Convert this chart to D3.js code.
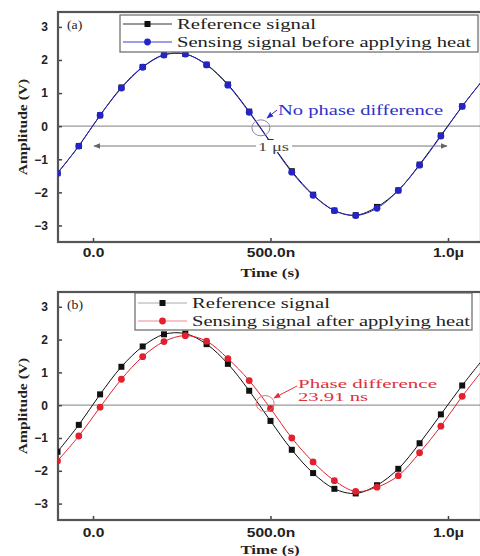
<!DOCTYPE html>
<html>
<head>
<meta charset="utf-8">
<script src="https://cdn.jsdelivr.net/npm/d3@7"></script>
<style>
  body { margin: 0; background: #fff; }
  svg { display: block; font-family: "Liberation Serif", "Times New Roman", serif; }
  .axis path, .axis line { stroke: #444; }
  .axis text { font-weight: bold; font-size: 12px; fill: #222; }
</style>
</head>
<body>
<svg id="chart" width="480" height="556"></svg>
<script>
// sample times (ns)
const times = [-100, -40, 20, 80, 140, 200, 260, 320, 380, 440, 500, 560, 620, 680, 740, 800, 860, 920, 980, 1040, 1100]
// reference signal (V)
const refSignal = [-1.42, -0.6, 0.33, 1.17, 1.79, 2.16, 2.18, 1.86, 1.26, 0.44, -0.48, -1.36, -2.07, -2.55, -2.69, -2.44, -1.94, -1.16, -0.28, 0.6, 1.42]
// sensing signal before heat (V)
const sensingBefore = [-1.42, -0.6, 0.33, 1.15, 1.78, 2.15, 2.18, 1.85, 1.24, 0.42, -0.5, -1.39, -2.09, -2.55, -2.7, -2.48, -1.94, -1.18, -0.3, 0.6, 1.42]
// sensing signal after heat (V)
const sensingAfter = [-1.7, -0.94, -0.06, 0.79, 1.48, 1.94, 2.12, 1.95, 1.42, 0.75, -0.1, -1.0, -1.73, -2.3, -2.63, -2.5, -2.15, -1.45, -0.64, 0.27, 1.1]

const xTicks = [0, 500e-9, 1e-6]
const xTickLabels = ['0.0', '500.0n', '1.0\u03bc']
const yTicks = [-3, -2, -1, 0, 1, 2, 3]

const svg = d3.select('#chart')
const margin = {left: 58, right: 481}
const sx = 1.3 // text in the original looks horizontally wide

const xScale = d3.scaleLinear().domain([-98.6e-9, 1.093e-6]).range([margin.left, margin.right])

const defs = svg.append('defs')
function arrowMarker(id, color) {
    defs.append('marker')
        .attr('id', id)
        .attr('viewBox', '0 0 10 10')
        .attr('refX', 9).attr('refY', 5)
        .attr('markerWidth', 7).attr('markerHeight', 7)
        .attr('orient', 'auto-start-reverse')
        .append('path')
        .attr('d', 'M0,1 L10,5 L0,9 Z')
        .attr('fill', color)
}
arrowMarker('arrGray', '#666')
arrowMarker('arrBlue', '#2a2ad0')
arrowMarker('arrRed', '#e0303a')

function makePanel(cfg) {
    const top = cfg.top, bottom = cfg.bottom
    const yScale = d3.scaleLinear().domain([-3.5, 3.45]).range([bottom, top])
    const g = svg.append('g')

    defs.append('clipPath').attr('id', cfg.id + '-clip')
        .append('rect')
        .attr('x', margin.left).attr('y', top)
        .attr('width', margin.right - margin.left).attr('height', bottom - top)

    // zero line
    g.append('line')
        .attr('x1', margin.left).attr('x2', margin.right)
        .attr('y1', yScale(0)).attr('y2', yScale(0))
        .attr('stroke', '#999').attr('stroke-width', 1.2)

    const xAxis = d3.axisBottom(xScale).tickValues(xTicks)
        .tickFormat((d, i) => xTickLabels[i]).tickSizeInner(-4).tickSizeOuter(0).tickPadding(cfg.xPad)
    const yAxis = d3.axisLeft(yScale).tickValues(yTicks)
        .tickFormat(d3.format('d')).tickSizeInner(-4).tickSizeOuter(0).tickPadding(10)

    const xg = g.append('g').attr('class', 'axis')
        .attr('transform', `translate(0,${bottom})`).call(xAxis)
    xg.select('.domain').remove()
    xg.selectAll('text').attr('transform', `scale(${sx},1)`)
    const yg = g.append('g').attr('class', 'axis')
        .attr('transform', `translate(${margin.left},0)`).call(yAxis)
    yg.select('.domain').remove()
    yg.selectAll('line').attr('stroke-width', 1.5)
    xg.selectAll('line').attr('stroke-width', 1.5)

    // frame
    g.append('rect')
        .attr('x', margin.left).attr('y', top)
        .attr('width', margin.right - margin.left).attr('height', bottom - top)
        .attr('fill', 'none').attr('stroke', '#555').attr('stroke-width', 2.2)

    // axis titles
    g.append('text')
        .attr('transform', `translate(270,${bottom + cfg.titleDy}) scale(${sx},1)`)
        .attr('text-anchor', 'middle')
        .attr('font-weight', 'bold').attr('font-size', 13).attr('fill', '#222')
        .text('Time (s)')
    g.append('text')
        .attr('transform', `translate(27,${(top + bottom) / 2}) rotate(-90) scale(${sx},1)`)
        .attr('text-anchor', 'middle')
        .attr('font-weight', 'bold').attr('font-size', 12).attr('fill', '#222')
        .text('Amplitude (V)')

    // panel label
    g.append('text')
        .attr('transform', `translate(67,${top + 17}) scale(1.15,1)`)
        .attr('font-size', 12).attr('fill', '#222')
        .text(cfg.label)

    const plot = g.append('g').attr('clip-path', `url(#${cfg.id}-clip)`)
    const line = d3.line()
        .x((d, i) => xScale(times[i] * 1e-9))
        .y(d => yScale(d))
        .curve(d3.curveCatmullRom)

    cfg.series.forEach(s => {
        plot.append('path')
            .datum(s.values)
            .attr('d', line)
            .attr('fill', 'none')
            .attr('stroke', s.color)
            .attr('stroke-width', 1)
        if (s.shape === 'square') {
            plot.selectAll(null).data(s.values).join('rect')
                .attr('x', (d, i) => xScale(times[i] * 1e-9) - 3)
                .attr('y', d => yScale(d) - 3)
                .attr('width', 6).attr('height', 6)
                .attr('fill', s.color)
        } else {
            plot.selectAll(null).data(s.values).join('circle')
                .attr('cx', (d, i) => xScale(times[i] * 1e-9))
                .attr('cy', d => yScale(d))
                .attr('r', 3.4)
                .attr('fill', s.color)
        }
    })

    // legend
    const lg = cfg.legend
    g.append('rect')
        .attr('x', lg.x).attr('y', lg.y)
        .attr('width', lg.w).attr('height', lg.h)
        .attr('fill', '#fff').attr('stroke', '#666').attr('stroke-width', 1.2)
    cfg.series.forEach((s, i) => {
        const yy = lg.y + lg.rowY[i]
        g.append('line')
            .attr('x1', lg.x + 3).attr('x2', lg.x + lg.lineW)
            .attr('y1', yy).attr('y2', yy)
            .attr('stroke', lg.lineColors[i]).attr('stroke-width', 1)
        const mx = lg.x + 3 + (lg.lineW - 3) / 2
        if (s.shape === 'square') {
            g.append('rect').attr('x', mx - 3).attr('y', yy - 3)
                .attr('width', 6).attr('height', 6).attr('fill', s.color)
        } else {
            g.append('circle').attr('cx', mx).attr('cy', yy).attr('r', 3.4).attr('fill', s.color)
        }
        g.append('text')
            .attr('x', lg.x + lg.textX).attr('y', yy + 5)
            .attr('font-size', 14).attr('fill', '#222')
            .attr('textLength', lg.textW[i]).attr('lengthAdjust', 'spacingAndGlyphs')
            .text(s.name)
    })

    return {g, yScale}
}

// panel (a)
const pa = makePanel({
    id: 'pa', top: 12, bottom: 242, label: '(a)', xPad: 6, titleDy: 35,
    series: [
        {name: 'Reference signal', values: refSignal, color: '#111', shape: 'square'},
        {name: 'Sensing signal before applying heat', values: sensingBefore, color: '#2424c8', shape: 'circle'}
    ],
    legend: {x: 120, y: 15, w: 358, h: 37, rowY: [9, 27], lineW: 52, textX: 57,
        textW: [139, 294], lineColors: ['#333', '#3a3ad0']}
})

// 1 μs period marker
const yPer = pa.yScale(-0.6)
pa.g.append('line')
    .attr('x1', xScale(0) + 1).attr('x2', xScale(1e-6) - 1)
    .attr('y1', yPer).attr('y2', yPer)
    .attr('stroke', '#777').attr('stroke-width', 1)
    .attr('marker-start', 'url(#arrGray)').attr('marker-end', 'url(#arrGray)')
pa.g.append('rect')
    .attr('x', 256).attr('y', yPer - 6).attr('width', 36).attr('height', 12).attr('fill', '#fff')
pa.g.append('text')
    .attr('x', 258).attr('y', yPer + 5)
    .attr('font-size', 13).attr('fill', '#444')
    .attr('textLength', 31).attr('lengthAdjust', 'spacingAndGlyphs')
    .text('1 \u03bcs')

// annotation (a)
pa.g.append('ellipse')
    .attr('cx', xScale(473e-9)).attr('cy', pa.yScale(-0.05))
    .attr('rx', 9).attr('ry', 8)
    .attr('fill', 'none').attr('stroke', '#8888a8').attr('stroke-width', 1)
pa.g.append('line')
    .attr('x1', 277).attr('y1', 110).attr('x2', 267).attr('y2', 118)
    .attr('stroke', '#2a2ad0').attr('stroke-width', 1)
    .attr('marker-end', 'url(#arrBlue)')
pa.g.append('text')
    .attr('x', 278).attr('y', 115)
    .attr('font-size', 14).attr('fill', '#3030c8')
    .attr('textLength', 165).attr('lengthAdjust', 'spacingAndGlyphs')
    .text('No phase difference')

// panel (b)
const pb = makePanel({
    id: 'pb', top: 292, bottom: 520, label: '(b)', xPad: 8, titleDy: 34,
    series: [
        {name: 'Reference signal', values: refSignal, color: '#111', shape: 'square'},
        {name: 'Sensing signal after applying heat', values: sensingAfter, color: '#e3202e', shape: 'circle'}
    ],
    legend: {x: 135, y: 293, w: 337, h: 37, rowY: [10, 28], lineW: 52, textX: 57,
        textW: [138, 278], lineColors: ['#aaa', '#ee8a90']}
})

// annotation (b)
pb.g.append('ellipse')
    .attr('cx', xScale(485e-9)).attr('cy', pb.yScale(0.05))
    .attr('rx', 9).attr('ry', 8)
    .attr('fill', 'none').attr('stroke', '#e07078').attr('stroke-width', 1)
pb.g.append('line')
    .attr('x1', 297).attr('y1', 386).attr('x2', 274).attr('y2', 398)
    .attr('stroke', '#e0303a').attr('stroke-width', 1)
    .attr('marker-end', 'url(#arrRed)')
pb.g.append('text')
    .attr('x', 298).attr('y', 388)
    .attr('font-size', 12).attr('fill', '#e0303a')
    .attr('textLength', 139).attr('lengthAdjust', 'spacingAndGlyphs')
    .text('Phase difference')
pb.g.append('text')
    .attr('x', 298).attr('y', 401)
    .attr('font-size', 12).attr('fill', '#e0303a')
    .attr('textLength', 70).attr('lengthAdjust', 'spacingAndGlyphs')
    .text('23.91 ns')
</script>
</body>
</html>
